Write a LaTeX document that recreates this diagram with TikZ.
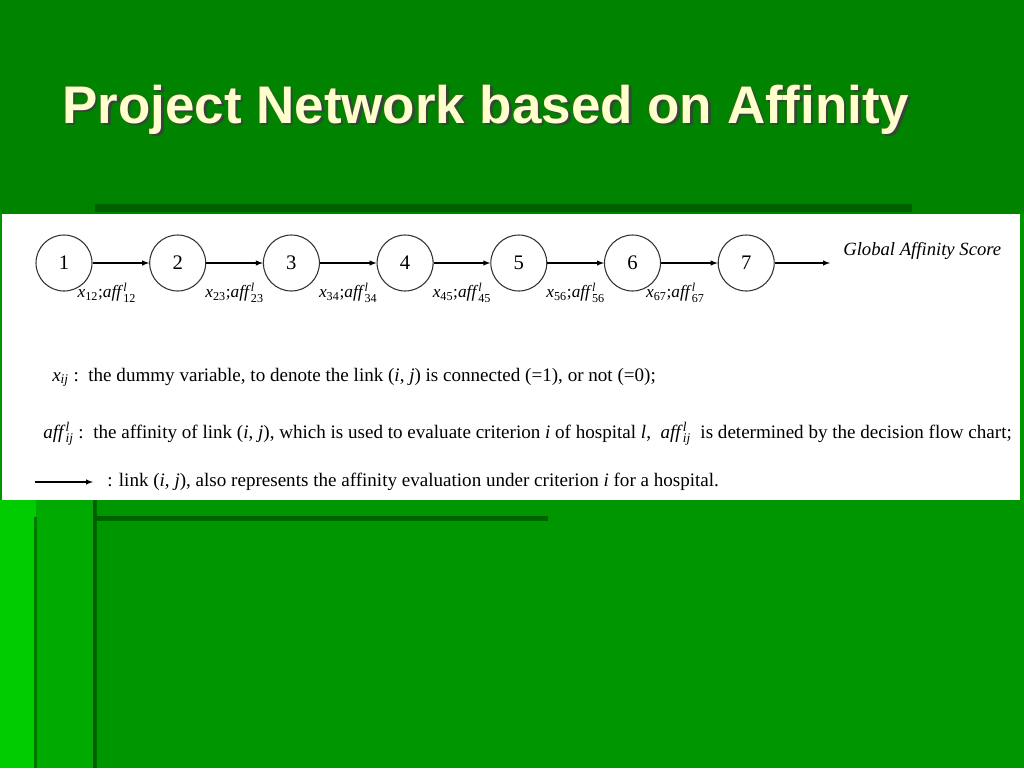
\documentclass[tikz,border=0pt]{standalone}
\usepackage{amsmath}
\usepackage{fontspec}
\usepackage{tikz}
\setmainfont{Liberation Serif}
\newfontfamily\headfont{Liberation Sans}
\newfontfamily\figfont{Liberation Serif}
\definecolor{slidegreen}{RGB}{0,132,0}
\definecolor{lowgreen}{RGB}{0,150,0}
\definecolor{stripgreen}{RGB}{0,170,0}
\definecolor{edgegreen}{RGB}{0,204,0}
\definecolor{bargreen}{RGB}{0,96,0}
\definecolor{titlecream}{RGB}{255,255,204}
\newcommand{\xvar}[1]{\textit{x}\ensuremath{_{\text{\upshape #1}}}}
\newcommand{\affvar}[1]{\textit{aff}\ensuremath{^{\text{\itshape l}}_{\text{\upshape #1}}}}

\begin{document}
\begin{tikzpicture}[x=0.75pt,y=-0.75pt,
  ring/.style={draw=black!80,line width=0.8pt,circle,minimum size=42pt,
    inner sep=0pt,font=\figfont\fontsize{15.5}{15.5}\selectfont},
  link/.style={draw,line width=0.8pt,-latex},
  lbl/.style={below=15pt,inner sep=0pt,font=\figfont\fontsize{13}{13}\selectfont},
  legend/.style={anchor=base west,inner sep=0pt,
    font=\figfont\fontsize{14.3}{14.3}\selectfont}]
  % Slide background: dark title band, lighter lower band with stripes.
  \useasboundingbox (0,0) rectangle (1024,768);
  \fill[lowgreen] (0,0) rectangle (1024,768);
  \fill[slidegreen] (0,0) rectangle (1024,214);
  \fill[edgegreen] (0,500) rectangle (36,768);
  \fill[stripgreen] (36,500) rectangle (95,768);
  \fill[bargreen] (95,204) rectangle (912,212);
  \fill[bargreen] (93,500) rectangle (97,768);
  \fill[bargreen!70!stripgreen] (34,517) rectangle (37,768);
  \fill[bargreen] (95,516) rectangle (548,521);
  \fill[white] (2,214) rectangle (1020,500);

  % Title with its drop shadow.
  \node[anchor=base west,inner sep=0pt,text=black!75,
        font=\headfont\bfseries\fontsize{39.7}{39.7}\selectfont]
    (titleshadow) at (64.5,125.5) {Project Network based on Affinity};
  \node[anchor=base west,inner sep=0pt,text=titlecream,
        font=\headfont\bfseries\fontsize{39.7}{39.7}\selectfont]
    (title) at (62,123) {Project Network based on Affinity};

  % The chain of seven nodes.
  \foreach \i in {1,...,7}{
    \node[ring] (n\i) at ({64+113.7*(\i-1)},263) {\i};
  }
  \foreach \a/\b/\dx in {1/2/-14,2/3/0,3/4/0,4/5/0,5/6/0,6/7/-14}{
    \draw[link] (n\a) -- node[lbl,xshift=\dx*0.75pt] {\xvar{\a\b};\affvar{\a\b}} (n\b);
  }
  \coordinate (scoreend) at (830,263);
  \draw[link] (n7) -- (scoreend);
  \node[anchor=base west,inner sep=0pt,
        font=\figfont\itshape\fontsize{14}{14}\selectfont]
    (score) at (843,255) {Global Affinity Score};

  % Notation.
  \node[legend] (xdef) at (52,381)
    {\xvar{\itshape ij} :\enspace the dummy variable, to denote the link
     (\textit{i}, \textit{j}) is connected (=1), or not (=0);};
  \node[legend] (affdef) at (43,438)
    {\affvar{\itshape ij} :\enspace the affinity of link (\textit{i}, \textit{j}),
     which is used to evaluate criterion \textit{i} of hospital \textit{l},\enspace
     \affvar{\itshape ij}\enspace is determined by the decision flow chart;};
  \coordinate (keyfrom) at (35,482);
  \coordinate (keyto) at (93,482);
  \draw[link] (keyfrom) -- (keyto);
  \node[legend] (linkdef) at (107,486)
    {: link (\textit{i}, \textit{j}), also represents the affinity evaluation
     under criterion \textit{i} for a hospital.};
\end{tikzpicture}
\end{document}
